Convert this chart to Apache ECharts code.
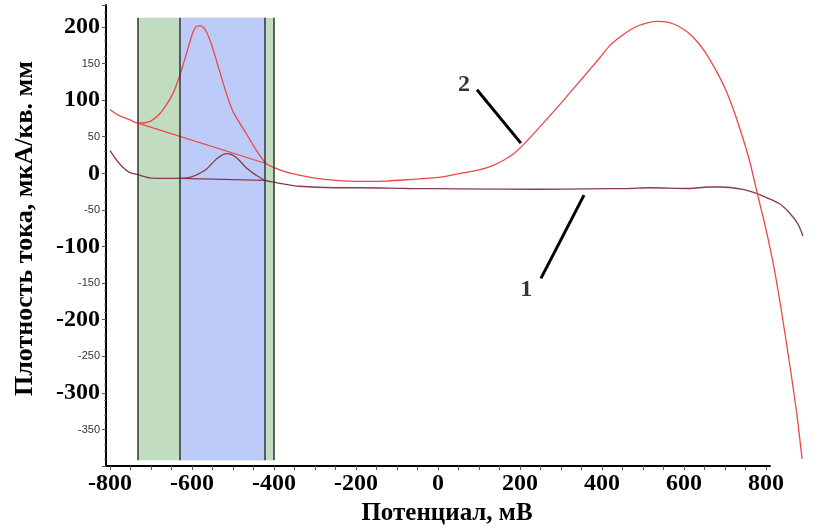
<!DOCTYPE html>
<html>
<head>
<meta charset="utf-8">
<script src="https://cdn.jsdelivr.net/npm/echarts@6.0.0/dist/echarts.min.js"></script>
<style>
  html, body { margin: 0; padding: 0; background: #fff; }
  #chart { width: 818px; height: 531px; }
</style>
</head>
<body>
<div id="chart"></div>
<script>
// кривая 1 (фон)
const curve1Potential = [-800, -778, -754, -732, -698, -629, -610, -595, -583, -565, -551, -535, -517, -505, -493, -480, -468, -444, -422,
  -395, -339, -250, -193, -71, 51, 246, 368, 466, 515, 612, 660, 690, 740, 778, 800, 834, 859, 878, 890];
const curve1Current = [34, 17, 5, 1.5, -3, -3.5, -2.5, 0, 3, 9, 17, 25, 30, 29, 25, 18, 11, 1, -6,
  -9, -14, -16, -16, -17, -17.5, -18, -17.5, -17, -16, -17, -15, -15, -18, -24, -29, -38, -51, -65, -81];

// кривая 2
const curve2Potential = [-800, -778, -754, -732, -715, -700, -680, -660, -645, -632, -615, -600, -590, -580, -566, -551, -534, -517, -502,
  -485, -468, -444, -420, -395, -370, -339, -300, -250, -193, -130, -71, 0, 51, 100, 130, 160, 185, 210, 250, 300,
  350, 393, 420, 449, 480, 510, 534, 560, 588, 620, 650, 680, 700, 720, 740, 760, 778, 800, 820, 840, 860, 875, 888];
const curve2Current = [89, 81, 76, 71, 71.5, 74, 83, 98, 113, 132, 162, 190, 201, 202, 195, 174, 143, 112, 89,
  72, 57, 35, 17, 10, 5, 1, -3, -6, -7.5, -7, -5, -2, 3, 8, 13, 21, 30, 43, 67, 98,
  130, 158, 176, 189, 200, 206, 208, 207, 201, 188, 168, 140, 118, 90, 57, 20, -22, -72, -125, -190, -262, -320, -381];

// базовые линии под пиками
const baseline1 = [[-630, -3.5], [-422, -6]];
const baseline2 = [[-732, 71], [-422, 17]];

// выделенные области
const greenBand = [-732, -400];
const blueBand = [-630, -422];
const bandTopBottom = [213, -383];

// выноски
const leader2 = [[95, 116], [202, 44]];
const leader1 = [[356, -26], [251, -138]];
const calloutNames = ['2', '1'];
const calloutPos = [[63, 122], [215, -154]];

// подписи осей
const xTicks = [-800, -750, -700, -650, -600, -550, -500, -450, -400, -350, -300, -250, -200, -150, -100, -50,
  0, 50, 100, 150, 200, 250, 300, 350, 400, 450, 500, 550, 600, 650, 700, 750, 800];
const xLabels = [-800, -600, -400, -200, 0, 200, 400, 600, 800];
const yLabels = [-350, -300, -250, -200, -150, -100, -50, 0, 50, 100, 150, 200];

const zip = (xs, ys) => xs.map((x, i) => [x, ys[i]]);

const red = '#ee4646';
const maroon = '#8a3a4c';
const serif = 'Liberation Serif';

const labelRich = {
  big: { fontFamily: serif, fontWeight: 'bold', fontSize: 24, color: '#000' },
  small: { fontFamily: 'Liberation Sans', fontSize: 11, color: '#333' }
};
const fmt = v => (v % 100 === 0 ? '{big|' + v + '}' : '{small|' + v + '}');

// данные рисуются во второй (скрытой) сетке, чтобы кривые выходили за конец оси
const onData = { xAxisIndex: 1, yAxisIndex: 1 };

const chart = echarts.init(document.getElementById('chart'));
chart.setOption({
  animation: false,
  grid: [
    { left: 106, right: 48, top: 5, bottom: 58 },
    { left: 106, right: 11, top: 5, bottom: 58 }
  ],
  xAxis: [{
    type: 'value',
    gridIndex: 0,
    min: -810,
    max: 810,
    name: 'Потенциал, мВ',
    nameLocation: 'middle',
    nameGap: 32,
    nameTextStyle: { fontFamily: serif, fontWeight: 'bold', fontSize: 25, color: '#000', padding: [0, 0, 0, 18] },
    axisLine: { onZero: false, lineStyle: { color: '#000', width: 2 } },
    axisTick: { customValues: xTicks, length: 4, lineStyle: { color: '#555' } },
    axisLabel: { customValues: xLabels, margin: 6, formatter: fmt, rich: labelRich },
    splitLine: { show: false }
  }, {
    type: 'value',
    gridIndex: 1,
    min: -810,
    max: 900,
    show: false
  }],
  yAxis: [{
    type: 'value',
    gridIndex: 0,
    min: -400,
    max: 230,
    interval: 50,
    name: 'Плотность тока, мкА/кв. мм',
    nameLocation: 'middle',
    nameGap: 68,
    nameTextStyle: { fontFamily: serif, fontWeight: 'bold', fontSize: 26, color: '#000', padding: [0, 0, 0, 14] },
    axisLine: { onZero: false, lineStyle: { color: '#000', width: 2 } },
    axisTick: { length: 4, lineStyle: { color: '#555' } },
    minorTick: { show: true, splitNumber: 5, length: 2, lineStyle: { color: '#777' } },
    axisLabel: { customValues: yLabels, margin: 6, formatter: fmt, rich: labelRich },
    splitLine: { show: false },
    minorSplitLine: { show: false }
  }, {
    type: 'value',
    gridIndex: 1,
    min: -400,
    max: 230,
    show: false
  }],
  series: [
    {
      name: 'bands',
      type: 'line',
      ...onData,
      data: [],
      z: 1,
      silent: true,
      markArea: {
        silent: true,
        data: [
          [{ xAxis: greenBand[0], yAxis: bandTopBottom[0], itemStyle: { color: '#c1dcc0' } },
           { xAxis: greenBand[1], yAxis: bandTopBottom[1] }],
          [{ xAxis: blueBand[0], yAxis: bandTopBottom[0], itemStyle: { color: '#bdcbf8' } },
           { xAxis: blueBand[1], yAxis: bandTopBottom[1] }]
        ]
      },
      markLine: {
        silent: true,
        symbol: ['none', 'none'],
        label: { show: false },
        lineStyle: { color: '#333', width: 1.5, type: 'solid' },
        data: [greenBand[0], blueBand[0], blueBand[1], greenBand[1]].map(x => [
          { coord: [x, bandTopBottom[0]] }, { coord: [x, bandTopBottom[1]] }
        ])
      }
    },
    {
      name: '1',
      type: 'line',
      ...onData,
      data: zip(curve1Potential, curve1Current),
      smooth: 0.3,
      showSymbol: false,
      z: 3,
      lineStyle: { color: maroon, width: 1.3 }
    },
    {
      name: 'base1',
      type: 'line',
      ...onData,
      data: baseline1,
      showSymbol: false,
      z: 3,
      lineStyle: { color: maroon, width: 1.2 }
    },
    {
      name: '2',
      type: 'line',
      ...onData,
      data: zip(curve2Potential, curve2Current),
      smooth: 0.3,
      showSymbol: false,
      z: 4,
      lineStyle: { color: red, width: 1.3 }
    },
    {
      name: 'base2',
      type: 'line',
      ...onData,
      data: baseline2,
      showSymbol: false,
      z: 4,
      lineStyle: { color: red, width: 1.2 }
    },
    {
      name: 'leader2',
      type: 'line',
      ...onData,
      data: leader2,
      showSymbol: false,
      z: 5,
      lineStyle: { color: '#000', width: 3 }
    },
    {
      name: 'leader1',
      type: 'line',
      ...onData,
      data: leader1,
      showSymbol: false,
      z: 5,
      lineStyle: { color: '#000', width: 3 }
    },
    {
      name: 'callouts',
      type: 'scatter',
      ...onData,
      symbolSize: 0,
      z: 5,
      data: calloutPos.map((p, i) => ({ name: calloutNames[i], value: p })),
      label: {
        show: true,
        position: 'inside',
        formatter: '{b}',
        fontFamily: serif,
        fontWeight: 'bold',
        fontSize: 24,
        color: '#000'
      }
    }
  ]
});
</script>
</body>
</html>
